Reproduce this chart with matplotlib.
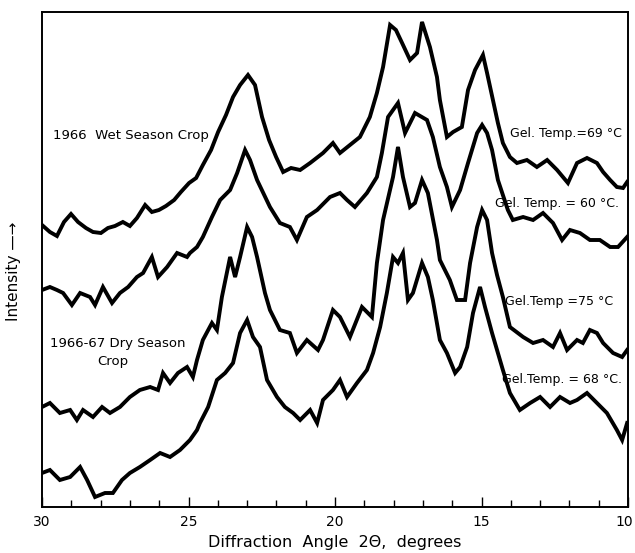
import matplotlib
matplotlib.use("Agg")
import matplotlib.pyplot as plt
import matplotlib.transforms as mtransforms
from matplotlib.ticker import MultipleLocator

# ---- data (2-theta in degrees, intensity in arbitrary units) ----
wet69_angle = [30.00, 29.73, 29.49, 29.25, 29.01, 28.77, 28.50, 28.26, 27.99, 27.75, 27.51, 27.24,
               27.00, 26.76, 26.48, 26.25, 26.01, 25.77, 25.49, 25.26, 24.98, 24.74, 24.51, 24.23,
               23.99, 23.72, 23.48, 23.24, 22.97, 22.73, 22.49, 22.25, 22.01, 21.77, 21.50, 21.19,
               20.85, 20.41, 20.07, 19.83, 19.49, 19.15, 18.81, 18.57, 18.36, 18.12, 17.92, 17.71,
               17.44, 17.20, 17.03, 16.76, 16.52, 16.42, 16.18, 15.97, 15.67, 15.46, 15.22, 14.95,
               14.81, 14.61, 14.44, 14.27, 14.03, 13.79, 13.45, 13.11, 12.76, 12.42, 12.05, 11.74,
               11.40, 11.06, 10.85, 10.61, 10.38, 10.17, 10.03]
wet69_int = [282, 275, 271, 285, 293, 285, 279, 275, 274, 279, 281, 285,
             281, 289, 302, 295, 297, 301, 307, 315, 324, 329, 342, 357,
             375, 392, 410, 422, 432, 422, 390, 367, 350, 335, 339, 337,
             344, 354, 364, 354, 362, 370, 390, 414, 440, 482, 477, 464,
             447, 454, 485, 460, 430, 407, 370, 375, 380, 417, 437, 452,
             434, 407, 384, 364, 350, 344, 347, 340, 347, 337, 324, 344,
             349, 344, 335, 327, 320, 319, 325]

wet60_angle = [30.00, 29.73, 29.49, 29.28, 28.98, 28.70, 28.36, 28.19, 27.92, 27.61, 27.34, 27.06,
               26.76, 26.55, 26.25, 26.04, 25.73, 25.39, 25.05, 24.95, 24.71, 24.51, 24.20, 23.92,
               23.58, 23.34, 23.07, 22.90, 22.66, 22.22, 21.88, 21.54, 21.30, 20.96, 20.61, 20.17,
               19.83, 19.59, 19.32, 18.91, 18.57, 18.40, 18.19, 17.85, 17.61, 17.27, 16.86, 16.66,
               16.42, 16.18, 16.01, 15.73, 15.46, 15.15, 14.98, 14.81, 14.64, 14.44, 14.10, 13.93,
               13.58, 13.24, 12.90, 12.56, 12.25, 11.98, 11.64, 11.30, 10.96, 10.61, 10.34, 10.03]
wet60_int = [217, 220, 217, 214, 202, 214, 210, 202, 220, 204, 214, 220,
             230, 234, 250, 230, 240, 254, 250, 254, 260, 270, 290, 307,
             317, 334, 357, 347, 327, 300, 284, 280, 267, 290, 297, 310,
             314, 307, 300, 314, 330, 354, 390, 404, 374, 394, 387, 370,
             340, 320, 300, 317, 344, 374, 382, 374, 357, 327, 297, 287,
             290, 287, 294, 284, 267, 277, 274, 267, 267, 260, 260, 270]

dry75_angle = [30.00, 29.73, 29.39, 29.04, 28.81, 28.60, 28.26, 27.95, 27.68, 27.34, 27.00, 26.66,
               26.31, 26.04, 25.87, 25.63, 25.36, 25.05, 24.85, 24.71, 24.51, 24.20, 24.03, 23.86,
               23.58, 23.41, 23.24, 23.00, 22.83, 22.66, 22.39, 22.22, 21.88, 21.54, 21.30, 20.96,
               20.58, 20.41, 20.07, 19.83, 19.49, 19.08, 18.74, 18.57, 18.36, 18.02, 17.85, 17.68,
               17.44, 17.27, 17.03, 16.83, 16.52, 16.42, 16.08, 15.84, 15.56, 15.39, 15.15, 14.98,
               14.81, 14.64, 14.47, 14.27, 14.03, 13.58, 13.24, 12.90, 12.56, 12.32, 12.08, 11.74,
               11.54, 11.30, 11.06, 10.85, 10.51, 10.20, 10.03]
dry75_int = [100, 104, 94, 97, 87, 97, 90, 100, 94, 100, 110, 117,
             120, 117, 134, 124, 134, 140, 130, 147, 167, 184, 177, 210,
             250, 230, 250, 280, 270, 250, 214, 197, 177, 174, 154, 167,
             157, 167, 197, 190, 170, 200, 190, 244, 287, 330, 360, 330,
             300, 304, 327, 314, 267, 247, 227, 207, 207, 244, 280, 297,
             287, 254, 232, 210, 180, 170, 164, 167, 160, 174, 157, 167,
             164, 177, 174, 164, 154, 150, 157]

dry68_angle = [30.00, 29.73, 29.39, 29.04, 28.70, 28.46, 28.19, 27.85, 27.58, 27.27, 27.00, 26.66,
               26.31, 25.97, 25.63, 25.29, 24.95, 24.71, 24.61, 24.33, 24.03, 23.75, 23.48, 23.24,
               23.00, 22.80, 22.56, 22.32, 21.98, 21.71, 21.43, 21.19, 20.85, 20.61, 20.41, 20.07,
               19.83, 19.59, 19.25, 18.91, 18.70, 18.46, 18.23, 18.02, 17.85, 17.68, 17.51, 17.34,
               17.03, 16.83, 16.66, 16.42, 16.18, 15.90, 15.73, 15.49, 15.29, 15.05, 14.88, 14.64,
               14.47, 14.27, 14.03, 13.69, 13.34, 13.00, 12.66, 12.32, 11.98, 11.74, 11.40, 11.06,
               10.72, 10.38, 10.20, 10.03]
dry68_int = [34, 37, 27, 30, 40, 27, 10, 14, 14, 27, 34, 40,
             47, 54, 50, 57, 67, 77, 84, 100, 127, 134, 144, 174,
             187, 170, 160, 127, 110, 100, 94, 87, 97, 84, 107, 117,
             127, 110, 124, 137, 154, 180, 214, 250, 244, 254, 207, 214,
             244, 230, 207, 167, 154, 134, 140, 160, 194, 220, 200, 174,
             157, 137, 114, 97, 104, 110, 100, 110, 104, 107, 114, 104,
             94, 77, 67, 84]

series = [(wet69_angle, wet69_int), (wet60_angle, wet60_int),
          (dry75_angle, dry75_int), (dry68_angle, dry68_int)]

xticks = [30, 25, 20, 15, 10]

# ---- figure ----
W, H = 635, 553
fig = plt.figure(figsize=(W / 100, H / 100), dpi=100)
ax = fig.add_axes([42 / W, (H - 507) / H, 586 / W, 495 / H])

for a, i in series:
    ax.plot(a, i, color="black", lw=2.8, solid_joinstyle="miter")
    ax.plot(a, i, color="black", lw=0.8)

ax.set_xlim(30, 10)
ax.set_ylim(0, 495)
ax.set_xticks(xticks)
ax.set_xticklabels([str(t) for t in xticks], fontsize=10)
ax.xaxis.set_minor_locator(MultipleLocator(1))
ax.tick_params(axis="x", which="major", direction="in", length=7, width=1.0, pad=6)
ax.tick_params(axis="x", which="minor", direction="in", length=5, width=1.0)
ax.set_yticks([])
for s in ax.spines.values():
    s.set_linewidth(1.4)

# nudge the last tick label so it stays inside the image
last = ax.get_xticklabels()[-1]
last.set_transform(last.get_transform() +
                   mtransforms.ScaledTranslation(-3 / 72, 0, fig.dpi_scale_trans))

fig.text(335 / W, (H - 542) / H, "Diffraction  Angle  2\u0398,  degrees", fontsize=11.5,
         ha="center", va="center")
fig.text(14 / W, (H - 271) / H, "Intensity \u2014\u2192", rotation=90, fontsize=11,
         ha="center", va="center")

ax.text(29.62, 507 - 136, "1966  Wet Season Crop", fontsize=9.5, ha="left", va="center")
ax.text(29.73, 507 - 343, "1966-67 Dry Season", fontsize=9.5, ha="left", va="center")
ax.text(27.58, 507 - 362, "Crop", fontsize=9.5, ha="center", va="center")

ax.text(10.2, 507 - 133, "Gel. Temp.=69 \u00b0C", fontsize=9, ha="right", va="center")
ax.text(10.3, 507 - 203, "Gel. Temp. = 60 \u00b0C.", fontsize=9, ha="right", va="center")
ax.text(10.5, 507 - 302, "Gel.Temp =75 \u00b0C", fontsize=9, ha="right", va="center")
ax.text(10.2, 507 - 379, "Gel.Temp. = 68 \u00b0C.", fontsize=9, ha="right", va="center")

fig.savefig("out.png", dpi=100)
